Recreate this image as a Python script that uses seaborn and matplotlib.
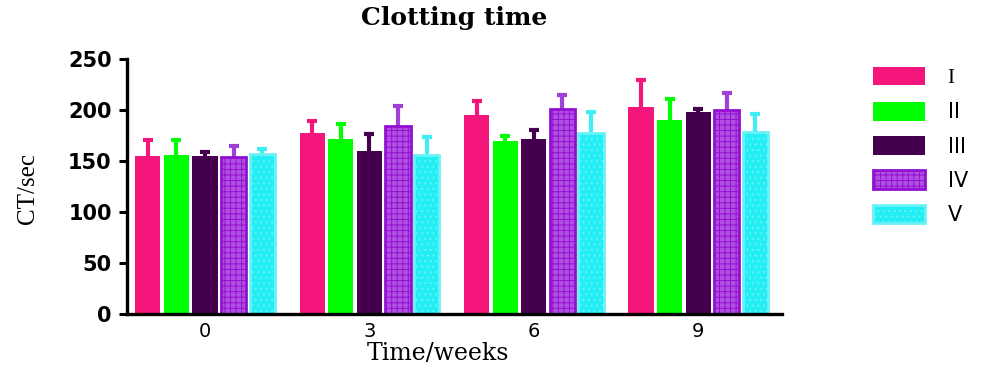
import numpy as np
import pandas as pd
import seaborn as sns
import matplotlib
matplotlib.use("Agg")
import matplotlib.pyplot as plt
from matplotlib.patches import Patch

# Clotting time (seconds), mean and SD per group and week
weeks = ["0", "3", "6", "9"]
groups = ["I", "II", "III", "IV", "V"]
mean_I = [155, 177, 195, 203]
sd_I = [16, 12, 14, 26]
mean_II = [156, 172, 170, 190]
sd_II = [15, 14, 4.5, 21]
mean_III = [155, 160, 172, 198]
sd_III = [4, 16, 8, 3]
mean_IV = [154, 184, 201, 200]
sd_IV = [11, 20, 14, 17]
mean_V = [157, 156, 177, 178]
sd_V = [5, 18, 21, 18]

means = [mean_I, mean_II, mean_III, mean_IV, mean_V]
sds = [sd_I, sd_II, sd_III, sd_IV, sd_V]

colors = ["#F5167B", "#00FF00", "#44004F", "#B050E2", "#22EEF4"]
edges = [None, None, None, "#9410D0", "#6AF2F7"]
err_colors = ["#F5167B", "#00FF00", "#44004F", "#A040D8", "#40EEF5"]
hatches = [None, None, None, "+++", "..."]

rows = []
for g, m in zip(groups, means):
    for w, v in zip(weeks, m):
        rows.append({"week": w, "group": g, "ct": v})
df = pd.DataFrame(rows)

sns.set_style("ticks")
plt.rcParams["hatch.linewidth"] = 0.7
plt.rcParams["text.color"] = "black"
plt.rcParams["xtick.color"] = "black"
plt.rcParams["ytick.color"] = "black"

fig = plt.figure(figsize=(9.85, 3.74), dpi=100)
ax = fig.add_axes([127 / 985, 1 - 314 / 374, (782 - 127) / 985, (314 - 59) / 374])

sns.barplot(data=df, x="week", y="ct", hue="group", order=weeks, hue_order=groups,
            palette=colors, saturation=1, width=0.87, gap=0.12,
            errorbar=None, legend=False, ax=ax)

bar_containers = list(ax.containers)
for i, cont in enumerate(bar_containers):
    xs, ys = [], []
    for bar in cont:
        bar.set_zorder(2)
        if edges[i] is None:
            bar.set_linewidth(0)
        else:
            bar.set_edgecolor(edges[i])
            bar.set_linewidth(2.0)
            bar.set_hatch(hatches[i])
        xs.append(bar.get_x() + bar.get_width() / 2)
        ys.append(bar.get_height())
    # upper SD only; the stem starts at the bar top and sits behind the bar
    eb = ax.errorbar(xs, ys, yerr=[np.zeros(len(ys)), sds[i]], fmt="none",
                     ecolor=err_colors[i], elinewidth=3, capsize=3.6, capthick=3, zorder=1)
    caplines = eb.lines[1]
    if len(caplines) == 2:
        caplines[0].set_visible(False)

ax.set_ylim(0, 250)
ax.set_xlim(-0.475, 3.51)
ax.set_yticks(range(0, 251, 50))
ax.set_xlabel("")
ax.set_ylabel("")
for s in ["top", "right"]:
    ax.spines[s].set_visible(False)
for s in ["left", "bottom"]:
    ax.spines[s].set_linewidth(2.4)
    ax.spines[s].set_color("black")
    ax.spines[s].set_zorder(3)

ax.tick_params(axis="y", length=6, width=2.2, pad=5, labelsize=15, colors="black")
ax.tick_params(axis="x", length=0, pad=6, labelsize=14, colors="black")
for t in ax.get_yticklabels():
    t.set_fontfamily("DejaVu Sans")
    t.set_fontweight("bold")
for t in ax.get_xticklabels():
    t.set_fontfamily("DejaVu Sans")

fig.text(454 / 985, 1 - 18 / 374, "Clotting time", ha="center", va="center",
         fontfamily="DejaVu Serif", fontweight="bold", fontsize=18, color="black")
fig.text(28 / 985, 1 - 188 / 374, "CT/sec", ha="center", va="center", rotation=90,
         fontfamily="Liberation Serif", fontsize=18, color="black")
fig.text(438 / 985, 1 - 354 / 374, "Time/weeks", ha="center", va="center",
         fontfamily="DejaVu Serif", fontsize=17, color="black")

handles = []
for i in range(5):
    if edges[i] is None:
        handles.append(Patch(facecolor=colors[i], linewidth=0))
    else:
        handles.append(Patch(facecolor=colors[i], edgecolor=edges[i],
                             linewidth=2.0, hatch=hatches[i]))
leg = fig.legend(handles, groups, loc="upper left", bbox_to_anchor=(854 / 985, 1 - 48 / 374),
                 frameon=False, fontsize=15, handlelength=2.5, handleheight=1.0,
                 labelspacing=0.66, handletextpad=1.1)
for t in leg.get_texts():
    t.set_fontfamily("DejaVu Sans")
    t.set_color("black")
leg.get_texts()[0].set_fontfamily("Liberation Serif")

fig.savefig("out.png", dpi=100)
